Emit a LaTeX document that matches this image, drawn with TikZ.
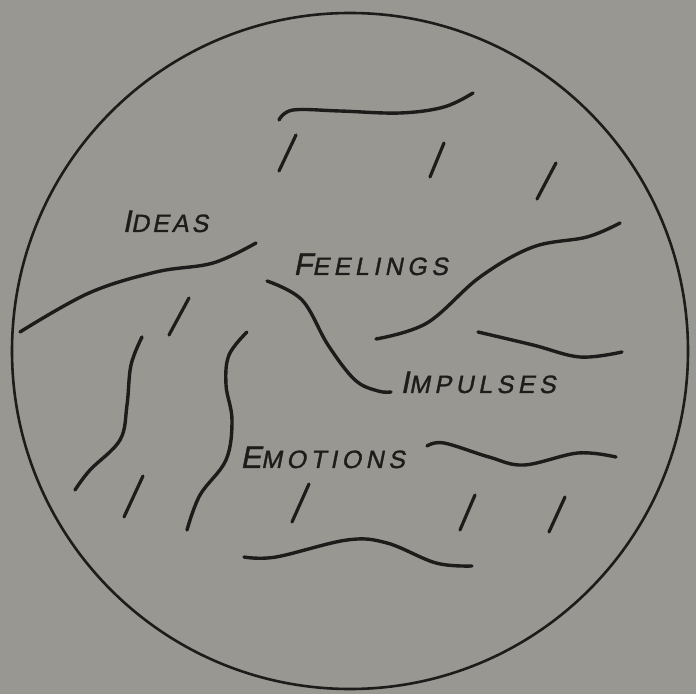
\documentclass[tikz,border=0pt]{standalone}
\usepackage{fontspec}
\newfontfamily\wordfont{Liberation Sans}[FakeSlant=0.2,LetterSpace=18,FakeBold=1.2]
\definecolor{Paper}{RGB}{152,151,146}
\definecolor{Ink}{RGB}{28,28,26}
\tikzset{
  stroke/.style={draw=Ink,line width=1.7pt,line cap=round,smooth,tension=0.6},
  tickmark/.style={draw=Ink,line width=1.6pt,line cap=round},
  rim/.style={draw=Ink,line width=1.3pt},
  word/.style={anchor=base west,inner sep=0pt,text=Ink,font=\wordfont\fontsize{12.5}{12.5}\selectfont}
}
\newcommand{\firstcap}[2]{{\fontsize{15.5}{15.5}\selectfont #1}#2}

\begin{document}
\begin{tikzpicture}[x=0.5pt,y=-0.5pt]
\fill[Paper] (0,0) rectangle (696,694);
\useasboundingbox (0,0) rectangle (696,694);

\draw[rim] (350,351) circle[radius=169pt];

% labels
\node[word] (ideas) at (122,232) {\firstcap{I}{D\kern1.5pt E\kern1.5pt A\kern1.5pt S}};
\node[word] (feelings) at (293,275) {\firstcap{F}{EELINGS}};
\node[word] (impulses) at (400,393) {\firstcap{I}{MPULSES}};
\node[word] (emotions) at (240,468) {\firstcap{E}{MOTIONS}};

% wavy strokes
\draw[stroke] plot coordinates {(279,120) (293,110) (340,111) (400,113) (444,107) (473,93)};
\draw[stroke] plot coordinates {(20,332) (89,293) (156,272) (213,263) (256,243)};
\draw[stroke] plot coordinates {(267,281) (302,300) (328,345) (355,380) (378,391) (391,392)};
\draw[stroke] plot coordinates {(376,339) (427,323) (480,277) (533,247) (587,237) (620,223)};
\draw[stroke] plot coordinates {(478,332) (533,345) (580,357) (622,352)};
\draw[stroke] plot coordinates {(142,337) (131,365) (127,405) (120,440) (90,470) (75,490)};
\draw[stroke] plot coordinates {(247,332) (229,355) (226,385) (232,420) (226,460) (200,495) (187,530)};
\draw[stroke] plot coordinates {(427,446) (444,443) (489,457) (524,465) (578,453) (616,457)};
\draw[stroke] plot coordinates {(244,557) (276,557) (347,540) (387,543) (436,563) (472,566)};

% short dashes
\draw[tickmark] (296,135) -- (279,171);
\draw[tickmark] (444,143) -- (430,177);
\draw[tickmark] (556,163) -- (537,199);
\draw[tickmark] (189,298) -- (169,335);
\draw[tickmark] (143,476) -- (124,517);
\draw[tickmark] (309,484) -- (292,522);
\draw[tickmark] (475,495) -- (460,530);
\draw[tickmark] (565,497) -- (549,532);
\end{tikzpicture}
\end{document}
